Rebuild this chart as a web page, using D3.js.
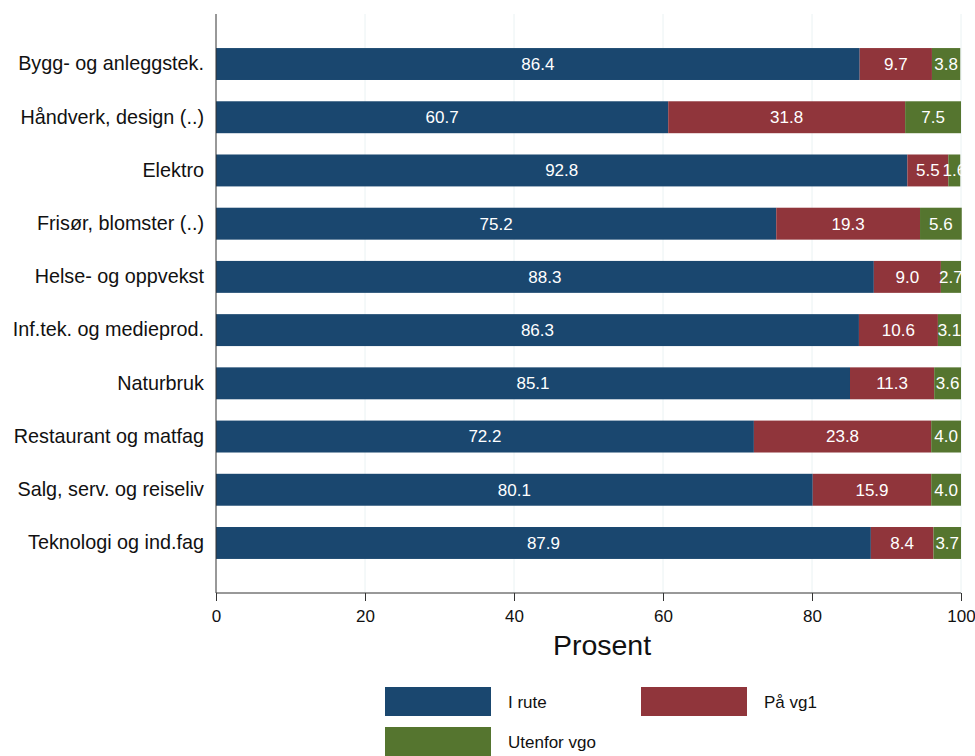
<!DOCTYPE html>
<html><head><meta charset="utf-8">
<script src="https://cdn.jsdelivr.net/npm/d3@7"></script>
<style>body{margin:0;background:#fff}svg{display:block;font-family:"Liberation Sans",Arial,sans-serif}</style>
</head><body><svg id="c" width="975" height="756"></svg>
<script>
const categories = ["Bygg- og anleggstek.","Håndverk, design (..)","Elektro","Frisør, blomster (..)","Helse- og oppvekst","Inf.tek. og medieprod.","Naturbruk","Restaurant og matfag","Salg, serv. og reiseliv","Teknologi og ind.fag"];
const iRute = [86.4,60.7,92.8,75.2,88.3,86.3,85.1,72.2,80.1,87.9];
const paVg1 = [9.7,31.8,5.5,19.3,9.0,10.6,11.3,23.8,15.9,8.4];
const utenfor = [3.8,7.5,1.6,5.6,2.7,3.1,3.6,4.0,4.0,3.7];
const seriesNames = ["I rute","På vg1","Utenfor vgo"];
const xTicks = [0,20,40,60,80,100];
const colors = ["#1a476f","#90353b","#55752f"];

const svg = d3.select("#c");
const L=216,R=961,T=14,B=593;
const x = d3.scaleLinear().domain([0,100]).range([L,R]);
const y = d3.scaleBand().domain(categories).range([T,B]).paddingInner(0.4).paddingOuter(0.64);

// grid
svg.append("g").selectAll("line").data(xTicks.slice(1)).join("line")
  .attr("x1",d=>x(d)).attr("x2",d=>x(d)).attr("y1",T).attr("y2",B)
  .attr("stroke","#eaf2f3").attr("stroke-width",1);

const series = [iRute,paVg1,utenfor];
const g = svg.append("g");
categories.forEach((c,i)=>{
  let start=0;
  series.forEach((s,k)=>{
    const v=s[i];
    g.append("rect").attr("x",x(start)).attr("y",y(c)).attr("width",x(start+v)-x(start)).attr("height",y.bandwidth()).attr("fill",colors[k]);
    start+=v;
  });
  start=0;
  series.forEach((s,k)=>{
    const v=s[i];
    g.append("text").attr("x",(x(start)+x(start+v))/2).attr("y",y(c)+y.bandwidth()/2).attr("dy","0.35em")
      .attr("text-anchor","middle").attr("fill","#fff").attr("font-size",17).text(v.toFixed(1));
    start+=v;
  });
});

// y axis
const ya = svg.append("g").attr("transform",`translate(${L},0)`).call(d3.axisLeft(y).tickSize(0).tickPadding(12));
ya.select(".domain").attr("stroke","#333").attr("d",`M0,${T}V${B}`);
ya.selectAll("text").attr("font-size",19.8).attr("fill","#111").style("font-family","Liberation Sans, Arial, sans-serif");

// x axis
const xa = svg.append("g").attr("transform",`translate(0,${B})`).call(d3.axisBottom(x).tickValues(xTicks).tickSize(8).tickPadding(9).tickFormat(d3.format("d")));
xa.select(".domain").attr("stroke","#333").attr("d",`M${L},0H${R}`);
xa.selectAll(".tick line").attr("stroke","#333");
xa.selectAll("text").attr("font-size",17).attr("fill","#111").style("font-family","Liberation Sans, Arial, sans-serif");

svg.append("text").attr("x",602).attr("y",655).attr("text-anchor","middle").attr("font-size",28.5).attr("fill","#111").text("Prosent");

// legend
const legPos = [[385,687],[641,687],[385,727]];
seriesNames.forEach((n,k)=>{
  const [lx,ly]=legPos[k];
  svg.append("rect").attr("x",lx).attr("y",ly).attr("width",106).attr("height",29).attr("fill",colors[k]);
  svg.append("text").attr("x",lx+123).attr("y",ly+15).attr("dy","0.35em").attr("font-size",17).attr("fill","#111").text(n);
});
</script></body></html>
